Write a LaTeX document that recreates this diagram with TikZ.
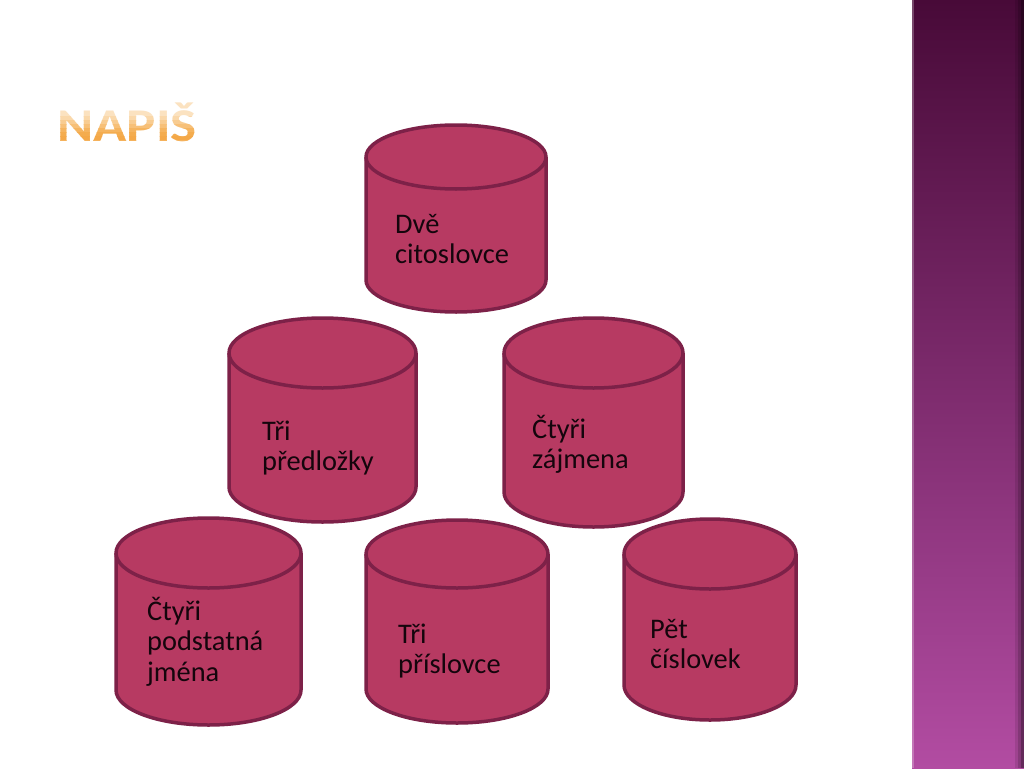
\documentclass[tikz,border=0pt]{standalone}
\usepackage{fontspec}
\setmainfont{Carlito}
\definecolor{cylfill}{RGB}{183,58,98}
\definecolor{cylline}{RGB}{125,33,72}
\definecolor{bandtop}{RGB}{72,10,56}
\definecolor{bandmid}{RGB}{122,44,108}
\definecolor{bandbot}{RGB}{178,76,162}
\definecolor{txt}{RGB}{20,5,12}
\definecolor{tA}{RGB}{251,226,192}
\definecolor{tB}{RGB}{250,216,170}
\definecolor{tC}{RGB}{248,204,145}
\definecolor{tD}{RGB}{247,192,120}
\definecolor{tE}{RGB}{245,180,95}
\definecolor{tF}{RGB}{244,172,78}
\definecolor{tG}{RGB}{244,168,72}
\definecolor{tH}{RGB}{245,178,92}
\newcommand\drumshape[5]{%
  \pgfmathsetmacro\drx{(#2-#1)/2}%
  \pgfmathsetmacro\dCt{-(#3+#5)}%
  \pgfmathsetmacro\dCb{-(#4-#5)}%
  \filldraw[cyl] (#1,\dCt) -- (#1,\dCb) arc[start angle=180,end angle=360,x radius=\drx,y radius=#5] -- (#2,\dCt) arc[start angle=0,end angle=180,x radius=\drx,y radius=#5] -- cycle;
  \draw[rim] (#1,\dCt) arc[start angle=180,end angle=360,x radius=\drx,y radius=#5];
}
\begin{document}
\begin{tikzpicture}[x=1pt,y=1pt,
  cyl/.style={fill=cylfill,draw=cylline,line width=3.5pt,line join=round},
  rim/.style={draw=cylline,line width=3.5pt},
  titletext/.style={anchor=base west,inner sep=0pt,font=\fontsize{47}{47}\selectfont\bfseries,xscale=1.17},
  drumtext/.style={anchor=base west,inner sep=0pt,text=txt,font=\fontsize{28.4}{30.5}\selectfont}]
\useasboundingbox (0,0) rectangle (1024,-768);
\fill[white] (0,0) rectangle (1024,-768);
% side band
\shade[top color=bandtop, middle color=bandmid, bottom color=bandbot] (912,0) rectangle (1024,-768);
\fill[white,opacity=.25] (912,0) rectangle (914,-768);
\fill[black,opacity=.10] (1015,0) rectangle (1024,-768);
\fill[black,opacity=.15] (1018,0) rectangle (1024,-768);
\fill[black,opacity=.25] (1021,0) rectangle (1024,-768);
% title, in horizontal colour bands
\foreach \ya/\yb/\col [count=\i] in {90/116/tA,116/120/tB,120/124/tC,124/128/tD,128/132/tE,132/136/tF,136/140/tG,140/150/tH}{
  \begin{scope}
    \clip (40,-\ya) rectangle (260,-\yb);
    \node[titletext,text=\col] (title\i) at (57,-141) {NAPIŠ};
  \end{scope}
}
% drums
\drumshape{366}{546}{125}{312}{32}
\drumshape{229}{416}{318}{522}{35}
\drumshape{504}{683}{318}{527}{35}
\drumshape{116}{301}{518}{725}{35}
\drumshape{366}{548}{520}{723}{34}
\drumshape{624}{796}{519}{720}{35}
% texts
\node[drumtext] (t1) at (395,-233) {\vtop{\hbox{Dvě}\hbox{citoslovce}}};
\node[drumtext] (t2) at (262,-440) {\vtop{\hbox{Tři}\hbox{předložky}}};
\node[drumtext] (t3) at (532,-438) {\vtop{\hbox{Čtyři}\hbox{zájmena}}};
\node[drumtext] (t4) at (147,-620) {\vtop{\hbox{Čtyři}\hbox{podstatná}\hbox{jména}}};
\node[drumtext] (t5) at (398,-643) {\vtop{\hbox{Tři}\hbox{příslovce}}};
\node[drumtext] (t6) at (650,-638) {\vtop{\hbox{Pět}\hbox{číslovek}}};
\end{tikzpicture}
\end{document}
